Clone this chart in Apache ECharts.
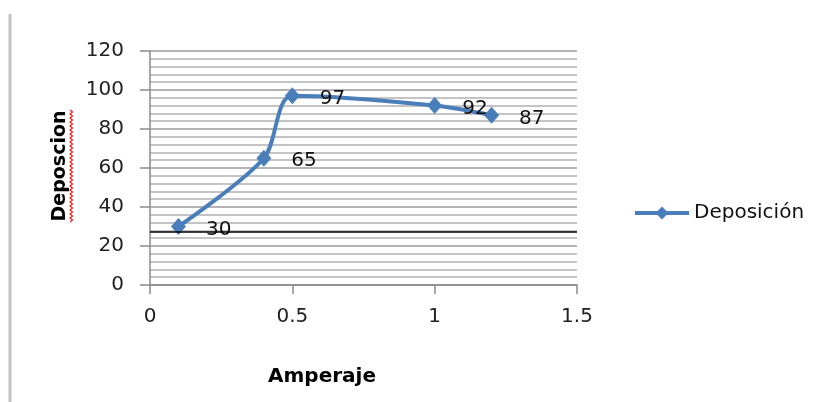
<!DOCTYPE html>
<html>
<head>
<meta charset="utf-8">
<script src="https://cdn.jsdelivr.net/npm/echarts@6/dist/echarts.min.js"></script>
<style>
  html, body { margin: 0; padding: 0; background: #fff; }
  #chart { width: 832px; height: 402px; }
</style>
</head>
<body>
<div id="chart"></div>
<script>
// Measured deposition against current
const seriesName = 'Deposición';
const amperaje = [0.1, 0.4, 0.5, 1.0, 1.2];
const deposicion = [30, 65, 97, 92, 87];
const referenceLevel = 27.5;
const xTicks = [0, 0.5, 1, 1.5];
const yTicks = [0, 20, 40, 60, 80, 100, 120];
const xTitle = 'Amperaje';
const yTitle = 'Deposcion';

const FONT = 'DejaVu Sans';
const BLUE = '#4a7ebb';

const chart = echarts.init(document.getElementById('chart'), null, { renderer: 'canvas' });

// red spell-check squiggle beneath the rotated axis title
const squiggle = [];
for (let y = 110, i = 0; y <= 223; y += 2, i++) {
  squiggle.push([i % 2 === 0 ? 70 : 72.5, y]);
}

chart.setOption({
  animation: false,
  backgroundColor: '#ffffff',
  textStyle: { fontFamily: FONT },
  grid: { left: 150, right: 255, top: 51, bottom: 117, containLabel: false },
  xAxis: {
    type: 'value',
    min: xTicks[0],
    max: xTicks[xTicks.length - 1],
    interval: 0.5,
    axisLine: { show: true, lineStyle: { color: '#8a8a8a', width: 1.5 } },
    axisTick: { show: true, inside: false, length: 9, lineStyle: { color: '#8a8a8a', width: 1.5 } },
    axisLabel: { color: '#222', fontSize: 20, fontFamily: FONT, margin: 22 },
    splitLine: { show: false }
  },
  yAxis: {
    type: 'value',
    min: yTicks[0],
    max: yTicks[yTicks.length - 1],
    interval: 20,
    axisLine: { show: true, lineStyle: { color: '#8a8a8a', width: 1.5 } },
    axisTick: { show: true, inside: false, length: 10, lineStyle: { color: '#8a8a8a', width: 1.5 } },
    axisLabel: { color: '#222', fontSize: 20, fontFamily: FONT, margin: 26 },
    splitLine: { show: true, lineStyle: { color: '#9a9a9a', width: 1.6 } },
    minorTick: { show: false, splitNumber: 5 },
    minorSplitLine: { show: true, lineStyle: { color: '#b0b0b0', width: 1.6 } }
  },
  legend: {
    show: true,
    left: 633,
    top: 203,
    padding: 0,
    orient: 'vertical',
    itemWidth: 54,
    itemHeight: 16,
    itemGap: 6,
    lineStyle: { width: 4, color: BLUE },
    textStyle: { color: '#111', fontSize: 20, fontFamily: FONT },
    data: [seriesName]
  },
  series: [{
    name: seriesName,
    type: 'line',
    data: amperaje.map((a, i) => [a, deposicion[i]]),
    smooth: 0.3,
    symbol: 'diamond',
    symbolSize: [15, 17],
    itemStyle: { color: BLUE },
    lineStyle: { color: BLUE, width: 4 },
    label: {
      show: true,
      position: 'right',
      distance: 20,
      offset: [0, 3],
      color: '#111',
      fontSize: 20,
      fontFamily: FONT,
      formatter: p => String(p.value[1])
    },
    markLine: {
      silent: true,
      symbol: ['none', 'none'],
      label: { show: false },
      lineStyle: { color: '#000', width: 1.5, type: 'solid' },
      data: [{ yAxis: referenceLevel }]
    }
  }],
  graphic: [
    {
      type: 'line',
      shape: { x1: 10, y1: 14, x2: 10, y2: 402 },
      style: { stroke: '#c2c2c2', lineWidth: 3 }
    },
    {
      type: 'text',
      x: 322,
      y: 377,
      style: {
        text: xTitle,
        font: 'bold 20px "DejaVu Sans"',
        fill: '#000',
        align: 'center',
        verticalAlign: 'middle'
      }
    },
    {
      type: 'text',
      x: 60,
      y: 166,
      rotation: Math.PI / 2,
      style: {
        text: yTitle,
        font: 'bold 19px "DejaVu Sans"',
        fill: '#000',
        align: 'center',
        verticalAlign: 'middle'
      }
    },
    {
      type: 'polyline',
      shape: { points: squiggle },
      style: { stroke: '#e02020', lineWidth: 1.2, fill: null }
    }
  ]
});
</script>
</body>
</html>
